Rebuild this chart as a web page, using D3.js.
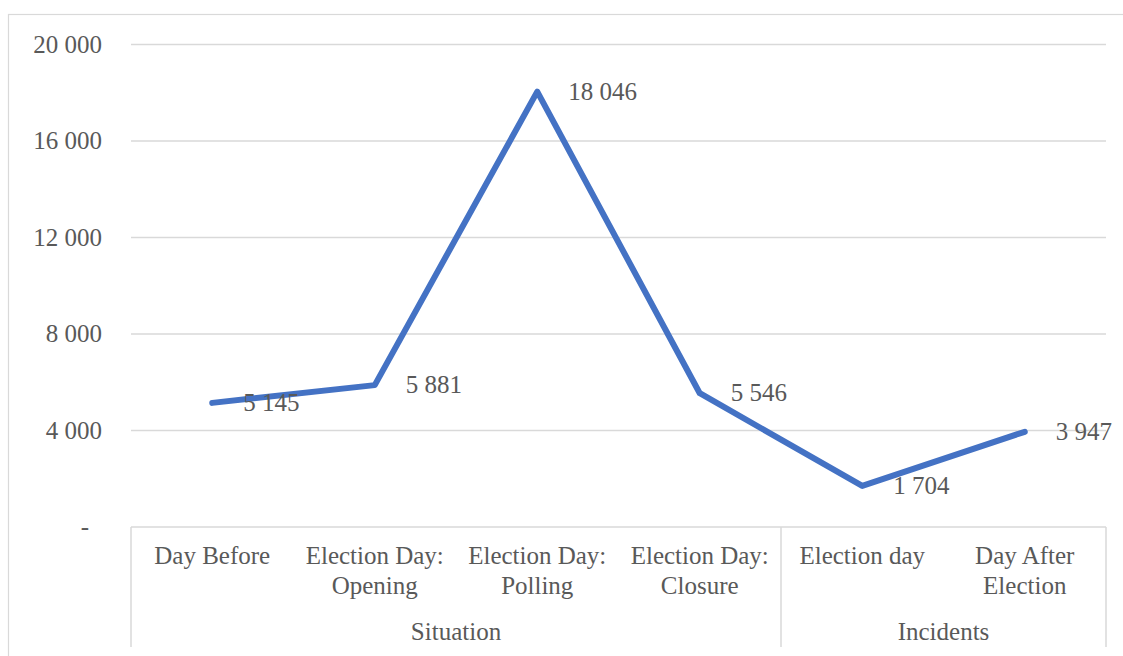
<!DOCTYPE html>
<html>
<head>
<meta charset="utf-8">
<script src="https://cdn.jsdelivr.net/npm/d3@7"></script>
<style>
  html, body { margin: 0; padding: 0; background: #fff; }
  svg { display: block; }
</style>
</head>
<body>
<svg id="chart" width="1123" height="656"></svg>
<script>
// Counts per stage of the election period
const categories = ["Day Before", "Election Day: Opening", "Election Day: Polling",
                    "Election Day: Closure", "Election day", "Day After Election"];
const categoryLines = [["Day Before"], ["Election Day:", "Opening"], ["Election Day:", "Polling"],
                       ["Election Day:", "Closure"], ["Election day"], ["Day After", "Election"]];
const categoryGroup = ["Situation", "Situation", "Situation", "Situation", "Incidents", "Incidents"];
const values = [5145, 5881, 18046, 5546, 1704, 3947];
const valueLabels = ["5 145", "5 881", "18 046", "5 546", "1 704", "3 947"];
const yTicks = [0, 4000, 8000, 12000, 16000, 20000];
const yTickLabels = ["-", "4 000", "8 000", "12 000", "16 000", "20 000"];

const W = 1123, H = 656;
const plot = { left: 131, right: 1106, top: 44.5, bottom: 527 };
const gridColor = "#d9d9d9";
const textColor = "#595959";
const fontSize = 25;
const fontFamily = "'Liberation Serif', 'Times New Roman', Tinos, 'DejaVu Serif', serif";

const svg = d3.select("#chart")
  .attr("font-family", fontFamily)
  .style("font-family", fontFamily);

// outer chart frame
svg.append("rect")
  .attr("x", 8.5).attr("y", 14.5)
  .attr("width", W + 10).attr("height", H + 10)
  .attr("fill", "none").attr("stroke", gridColor).attr("stroke-width", 1.2);

const x = d3.scaleBand().domain(categories).range([plot.left, plot.right]).padding(0);
const cx = c => x(c) + x.bandwidth() / 2;
const y = d3.scaleLinear().domain([0, 20000]).range([plot.bottom, plot.top]);

function styleText(sel) {
  return sel.attr("font-family", fontFamily).style("font-family", fontFamily)
    .attr("font-size", fontSize).attr("fill", textColor);
}

// horizontal gridlines
svg.append("g").selectAll("line")
  .data(yTicks.filter(t => t > 0))
  .join("line")
  .attr("x1", plot.left).attr("x2", plot.right)
  .attr("y1", d => y(d)).attr("y2", d => y(d))
  .attr("stroke", gridColor).attr("stroke-width", 1.5);

// value axis labels
svg.append("g").selectAll("text")
  .data(yTicks)
  .join("text")
  .attr("x", d => d === 0 ? 89 : 102)
  .attr("y", d => y(d) + fontSize * 0.33)
  .attr("text-anchor", "end")
  .call(styleText)
  .text((d, i) => yTickLabels[i]);

// category axis: line plus group frame
const axisBottom = 647;
svg.append("line")
  .attr("x1", plot.left).attr("x2", plot.right)
  .attr("y1", plot.bottom).attr("y2", plot.bottom)
  .attr("stroke", gridColor).attr("stroke-width", 1.5);

const groupNames = Array.from(new Set(categoryGroup));
const groups = groupNames.map(g => {
  const members = categories.filter((c, i) => categoryGroup[i] === g);
  const x0 = x(members[0]);
  const x1 = x(members[members.length - 1]) + x.bandwidth();
  return { name: g, x0, x1 };
});
const dividers = [plot.left].concat(groups.map(g => g.x1));
svg.append("g").selectAll("line")
  .data(dividers)
  .join("line")
  .attr("x1", d => d).attr("x2", d => d)
  .attr("y1", plot.bottom).attr("y2", axisBottom)
  .attr("stroke", gridColor).attr("stroke-width", 1.5);

// category labels
const catG = svg.append("g").selectAll("text")
  .data(categories)
  .join("text")
  .attr("text-anchor", "middle")
  .call(styleText)
  .attr("y", 564);
catG.each(function(c, i) {
  d3.select(this).selectAll("tspan")
    .data(categoryLines[i])
    .join("tspan")
    .attr("x", cx(c))
    .attr("dy", (d, j) => j === 0 ? 0 : 30)
    .text(d => d);
});

// group labels
svg.append("g").selectAll("text")
  .data(groups)
  .join("text")
  .attr("x", d => (d.x0 + d.x1) / 2)
  .attr("y", 640)
  .attr("text-anchor", "middle")
  .call(styleText)
  .text(d => d.name);

// series line
const line = d3.line()
  .x((d, i) => cx(categories[i]))
  .y(d => y(d));
svg.append("path")
  .datum(values)
  .attr("d", line)
  .attr("fill", "none")
  .attr("stroke", "#4472C4")
  .attr("stroke-width", 6)
  .attr("stroke-linejoin", "round")
  .attr("stroke-linecap", "round");

// data labels to the right of each point
svg.append("g").selectAll("text")
  .data(values)
  .join("text")
  .attr("x", (d, i) => cx(categories[i]) + 31)
  .attr("y", d => y(d) + fontSize * 0.33)
  .call(styleText)
  .text((d, i) => valueLabels[i]);
</script>
</body>
</html>
